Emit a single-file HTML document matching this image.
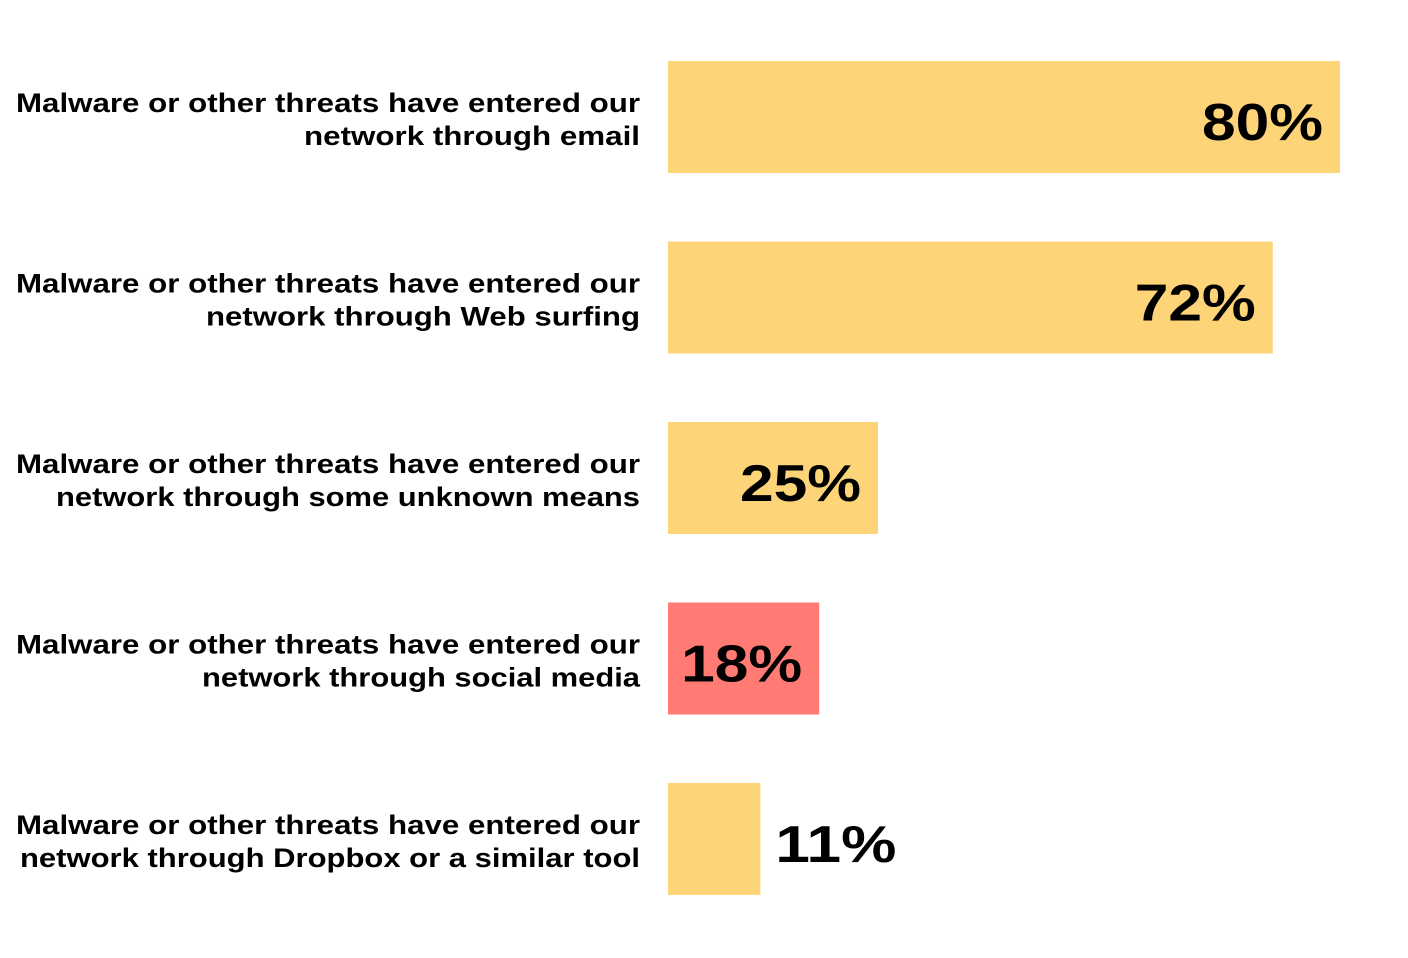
<!DOCTYPE html>
<html><head><meta charset="utf-8"><style>
html,body{margin:0;padding:0;background:#fff;}
svg{display:block;}
text{font-family:"Liberation Sans","DejaVu Sans",sans-serif;font-weight:bold;fill:#000;}
</style></head><body>
<svg id="chart" width="1408" height="958" viewBox="0 0 1408 958" xmlns="http://www.w3.org/2000/svg"></svg>
<script>
const line1 = ["Malware or other threats have entered our","Malware or other threats have entered our","Malware or other threats have entered our","Malware or other threats have entered our","Malware or other threats have entered our"];
const line2 = ["network through email","network through Web surfing","network through some unknown means","network through social media","network through Dropbox or a similar tool"];
const values = [80,72,25,18,11];
const valueLabels = ["80%","72%","25%","18%","11%"];
const highlight = [false,false,false,true,false];

const svg = document.getElementById('chart');
const NS = "http://www.w3.org/2000/svg";
const x0 = 668, scale = 8.4;
const xScale = v => x0 + v*scale;
const yTop = i => 61 + i*180.5;
const barH = 112;
const line2Widths = [336,434,584,438,620];

values.forEach((v,i)=>{
  const y = yTop(i), cy = y + barH/2;
  const r = document.createElementNS(NS,'rect');
  
  
  r.setAttribute('x',x0); r.setAttribute('y',y);
  r.setAttribute('width',xScale(v)-x0); r.setAttribute('height',barH);
  r.setAttribute('fill',highlight[i]?'#FF7B73':'#FED479');
  svg.appendChild(r);

  const t1 = document.createElementNS(NS,'text');
  
  
  t1.setAttribute('x',640); t1.setAttribute('y',cy-5);
  t1.setAttribute('text-anchor','end'); t1.setAttribute('font-size','27');
  t1.setAttribute('textLength','624'); t1.setAttribute('lengthAdjust','spacingAndGlyphs');
  t1.textContent = line1[i];
  svg.appendChild(t1);

  const t2 = document.createElementNS(NS,'text');
  
  
  t2.setAttribute('x',640); t2.setAttribute('y',cy+28);
  t2.setAttribute('text-anchor','end'); t2.setAttribute('font-size','27');
  t2.setAttribute('textLength',line2Widths[i]); t2.setAttribute('lengthAdjust','spacingAndGlyphs');
  t2.textContent = line2[i];
  svg.appendChild(t2);

  const vl = document.createElementNS(NS,'text');
  
  
  const end = xScale(v);
  const w = 121;
  let x;
  if (end - x0 > w + 30) { x = end - 17 - w; } else { x = end + 15; }
  vl.setAttribute('x',x); vl.setAttribute('y',cy+23);
  vl.setAttribute('font-size','52');
  vl.setAttribute('textLength',w); vl.setAttribute('lengthAdjust','spacingAndGlyphs');
  vl.textContent = valueLabels[i];
  svg.appendChild(vl);
});
</script>
</body></html>
